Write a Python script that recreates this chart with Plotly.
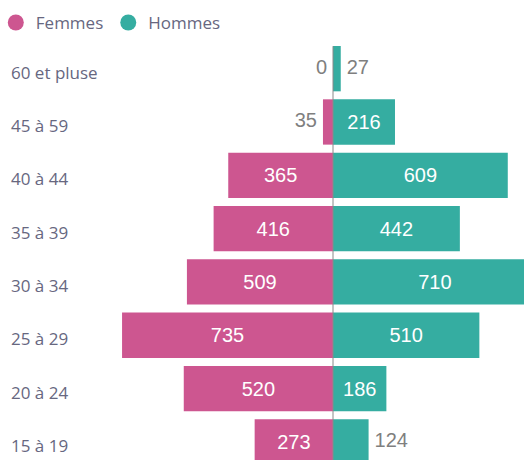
import plotly.graph_objects as go

# Age groups, top to bottom, and head counts per sex
categories = ["60 et pluse", "45 à 59", "40 à 44", "35 à 39",
              "30 à 34", "25 à 29", "20 à 24", "15 à 19"]
femmes = [0, 35, 365, 416, 509, 735, 520, 273]
hommes = [27, 216, 609, 442, 710, 510, 186, 124]

PINK = "#cd5690"
TEAL = "#35ada1"
VALUE_GREY = "#7f7f7f"
TEXT_GREY = "#67677f"
MIN_INSIDE = 150  # shorter bars get their value written beside them

bar_font = dict(family="Liberation Sans, Arial, sans-serif", size=20)

fig = go.Figure()

# Femmes grow to the left (negative side), Hommes to the right
fig.add_trace(go.Bar(
    y=categories, x=[-v for v in femmes], orientation="h",
    marker=dict(color=PINK, line_width=0),
    text=[str(v) if v >= MIN_INSIDE else "" for v in femmes],
    textposition="inside", insidetextanchor="middle",
    textfont=dict(color="white", **bar_font),
    showlegend=False, hoverinfo="skip",
))
fig.add_trace(go.Bar(
    y=categories, x=hommes, orientation="h",
    marker=dict(color=TEAL, line_width=0),
    text=[str(v) if v >= MIN_INSIDE else "" for v in hommes],
    textposition="inside", insidetextanchor="middle",
    textfont=dict(color="white", **bar_font),
    showlegend=False, hoverinfo="skip",
))

# Values of the short bars, written just past the bar end
# (an invisible marker keeps a small gap between bar and text)
f_out = [(c, v) for c, v in zip(categories, femmes) if v < MIN_INSIDE]
h_out = [(c, v) for c, v in zip(categories, hommes) if v < MIN_INSIDE]
fig.add_trace(go.Scatter(
    x=[-v for _, v in f_out], y=[c for c, _ in f_out], mode="markers+text",
    text=[str(v) for _, v in f_out], textposition="middle left",
    marker=dict(size=8, opacity=0),
    textfont=dict(color=VALUE_GREY, **bar_font),
    showlegend=False, hoverinfo="skip",
))
fig.add_trace(go.Scatter(
    x=[v for _, v in h_out], y=[c for c, _ in h_out], mode="markers+text",
    text=[str(v) for _, v in h_out], textposition="middle right",
    marker=dict(size=8, opacity=0),
    textfont=dict(color=VALUE_GREY, **bar_font),
    showlegend=False, hoverinfo="skip",
))

# Legend entries with round swatches
for name, color in (("Femmes", PINK), ("Hommes", TEAL)):
    fig.add_trace(go.Scatter(
        x=[None], y=[None], mode="markers", name=name,
        marker=dict(color=color, size=16, symbol="circle"),
    ))

# Thin divider at zero
fig.add_shape(type="line", xref="x", yref="paper", x0=0, x1=0, y0=0, y1=0.99,
              line=dict(color="#8a8a8a", width=1), layer="above")

fig.update_layout(
    width=524, height=460,
    margin=dict(l=0, r=0, t=42, b=0, autoexpand=False),
    paper_bgcolor="white", plot_bgcolor="white",
    barmode="overlay", bargap=0.15,
    font=dict(family="Open Sans, sans-serif", color=TEXT_GREY),
    legend=dict(orientation="h", x=-0.008, y=1.0455, xanchor="left", yanchor="middle",
                font=dict(size=17, color=TEXT_GREY), itemwidth=30,
                bgcolor="rgba(0,0,0,0)"),
    xaxis=dict(range=[-1160.3, 665.5], visible=False, fixedrange=True),
    yaxis=dict(type="category", categoryorder="array", categoryarray=categories,
               range=[7.34, -0.5], ticklabelposition="inside", ticklabelstandoff=8,
               ticklabelshift=-4,
               showgrid=False, showline=False, zeroline=False, ticks="",
               tickfont=dict(size=17, color=TEXT_GREY), fixedrange=True),
)

fig.write_html("out.html")
